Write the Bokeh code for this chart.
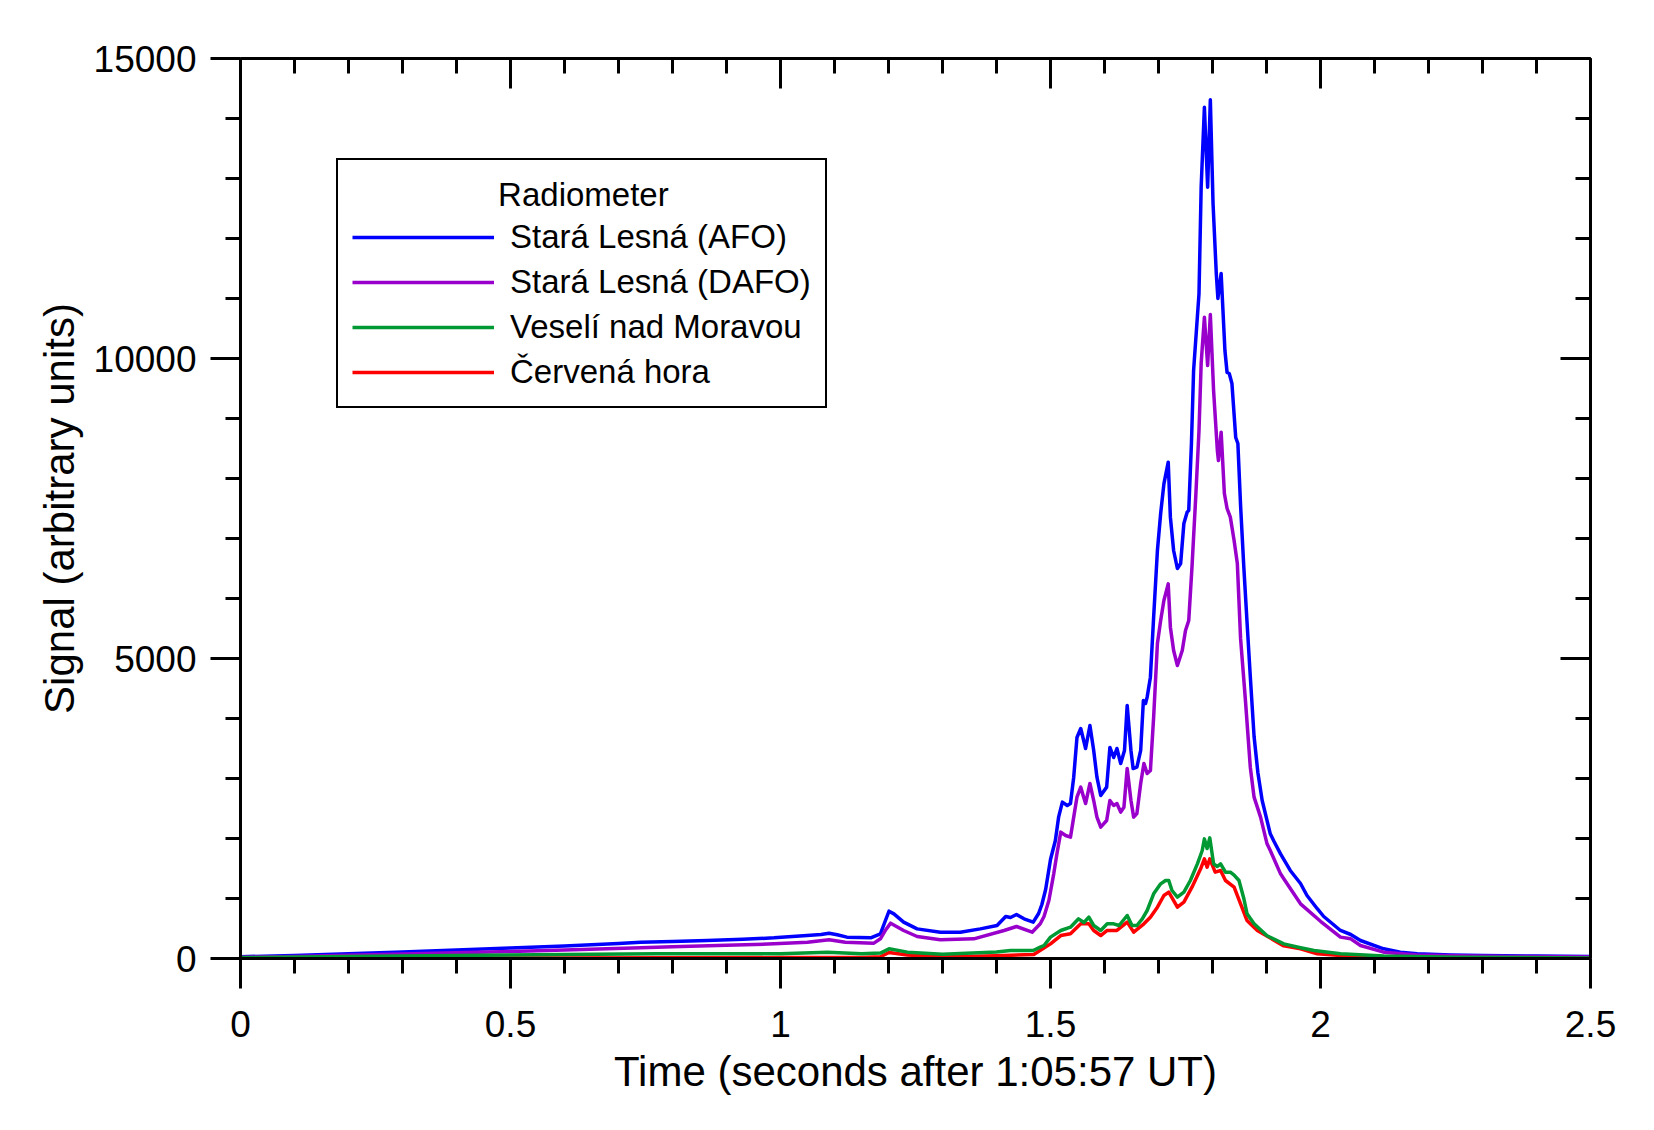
from bokeh.plotting import figure
from bokeh.models import (Range1d, LinearAxis, FixedTicker, Legend, LegendItem,
                          CustomJSTickFormatter, Label)
from bokeh.embed import file_html
from bokeh.resources import INLINE

FONT = "Liberation Sans"

# ---- signal traces (time in s after 1:05:57 UT, arbitrary units) ----
t_afo = [0.00, 0.10, 0.20, 0.30, 0.40, 0.50, 0.60, 0.70, 0.741, 0.80, 0.864, 0.93, 0.988,
         1.049, 1.075, 1.090, 1.105, 1.123, 1.167, 1.185, 1.195, 1.201, 1.210, 1.228, 1.253,
         1.296, 1.333, 1.370, 1.401, 1.417, 1.426, 1.437, 1.451, 1.468, 1.478, 1.484, 1.491,
         1.500, 1.509, 1.515, 1.522, 1.531, 1.537, 1.543, 1.549, 1.556, 1.561, 1.565, 1.573,
         1.580, 1.586, 1.593, 1.604, 1.610, 1.617, 1.623, 1.630, 1.637, 1.642, 1.649, 1.653,
         1.660, 1.667, 1.672, 1.676, 1.679, 1.685, 1.691, 1.698, 1.704, 1.710, 1.718, 1.722,
         1.728, 1.735, 1.741, 1.747, 1.753, 1.756, 1.761, 1.765, 1.775, 1.779, 1.785, 1.791,
         1.796, 1.801, 1.807, 1.810, 1.816, 1.823, 1.827, 1.831, 1.836, 1.843, 1.847, 1.852,
         1.858, 1.864, 1.870, 1.877, 1.884, 1.892, 1.907, 1.914, 1.926, 1.944, 1.963, 1.975,
         1.994, 2.006, 2.037, 2.056, 2.074, 2.117, 2.148, 2.179, 2.241, 2.30, 2.40, 2.50]
s_afo = [30, 50, 80, 110, 140, 175, 210, 250, 272, 285, 300, 320, 344,
         383, 400, 422, 395, 356, 344, 411, 650, 789, 744, 606, 494,
         439, 439, 494, 550, 700, 683, 733, 661, 606, 750, 900, 1150,
         1650, 1967, 2356, 2606, 2550, 2583, 3022, 3683, 3833, 3650, 3500, 3883,
         3467, 3022, 2717, 2856, 3517, 3350, 3500, 3250, 3467, 4217, 3467, 3167,
         3189, 3467, 4300, 4250, 4356, 4689, 5689, 6800, 7417, 7911, 8272, 7356,
         6800, 6500, 6583, 7250, 7439, 7467, 8583, 9800, 11083, 12855, 14188, 12855,
         14311, 12583, 11417, 11000, 11417, 10133, 9767, 9750, 9583, 8683, 8583, 7550,
         6522, 5600, 4700, 3700, 3100, 2633, 2078, 1950, 1744, 1467, 1250, 1050,
         830, 700, 467, 400, 300, 161, 106, 78, 60, 50, 40, 35]

t_dafo = [0.00, 0.10, 0.20, 0.30, 0.40, 0.50, 0.60, 0.741, 0.80, 0.90, 0.988, 1.05, 1.090,
          1.12, 1.173, 1.185, 1.195, 1.204, 1.228, 1.253, 1.296, 1.358, 1.414, 1.437, 1.466,
          1.481, 1.488, 1.497, 1.506, 1.512, 1.519, 1.528, 1.537, 1.543, 1.549, 1.556, 1.561,
          1.565, 1.573, 1.580, 1.586, 1.593, 1.604, 1.610, 1.617, 1.623, 1.630, 1.636, 1.642,
          1.649, 1.654, 1.660, 1.667, 1.673, 1.679, 1.685, 1.691, 1.698, 1.704, 1.710, 1.718,
          1.722, 1.728, 1.735, 1.744, 1.750, 1.756, 1.762, 1.769, 1.775, 1.779, 1.785, 1.791,
          1.796, 1.802, 1.809, 1.811, 1.816, 1.822, 1.827, 1.833, 1.840, 1.846, 1.852, 1.861,
          1.870, 1.877, 1.889, 1.901, 1.907, 1.926, 1.932, 1.963, 2.000, 2.037, 2.056, 2.074,
          2.117, 2.179, 2.25, 2.35, 2.50]
s_dafo = [20, 35, 55, 75, 95, 115, 140, 178, 195, 220, 244, 270, 311,
          270, 256, 328, 480, 589, 467, 367, 311, 328, 467, 533, 439,
          578, 700, 967, 1411, 1750, 2106, 2050, 2022, 2356, 2689, 2856, 2700,
          2583, 2917, 2633, 2356, 2189, 2300, 2633, 2550, 2583, 2439, 2522, 3167,
          2633, 2356, 2417, 2917, 3250, 3083, 3133, 4022, 5250, 5633, 5967, 6244,
          5522, 5133, 4883, 5133, 5467, 5633, 6522, 7700, 8800, 9917, 10689, 9883,
          10733, 9467, 8467, 8300, 8772, 7750, 7500, 7356, 6967, 6583, 5330, 4300,
          3189, 2689, 2356, 1911, 1800, 1411, 1330, 911, 620, 356, 328, 217,
          106, 60, 45, 35, 25]

t_vmo = [0.00, 0.20, 0.40, 0.60, 0.772, 1.00, 1.087, 1.15, 1.185, 1.201, 1.235, 1.30, 1.40,
         1.426, 1.468, 1.481, 1.488, 1.500, 1.519, 1.537, 1.552, 1.562, 1.571, 1.580, 1.593,
         1.605, 1.617, 1.627, 1.642, 1.651, 1.660, 1.670, 1.679, 1.691, 1.704, 1.713, 1.719,
         1.725, 1.735, 1.747, 1.759, 1.772, 1.781, 1.785, 1.790, 1.795, 1.802, 1.809, 1.815,
         1.824, 1.833, 1.840, 1.849, 1.858, 1.864, 1.877, 1.901, 1.932, 1.963, 1.988, 2.037,
         2.117, 2.25, 2.50]
s_vmo = [15, 35, 50, 65, 78, 80, 106, 80, 90, 161, 106, 70, 110,
         133, 133, 189, 217, 356, 467, 522, 661, 600, 689, 550, 467,
         578, 578, 550, 717, 550, 550, 661, 800, 1078, 1244, 1300, 1300,
         1133, 1022, 1106, 1300, 1578, 1800, 1994, 1833, 2010, 1578, 1533, 1578,
         1439, 1439, 1390, 1300, 1000, 744, 578, 380, 244, 180, 133, 78,
         40, 20, 10]

t_ch = [0.00, 0.30, 0.60, 1.00, 1.15, 1.185, 1.201, 1.235, 1.30, 1.40, 1.469, 1.500, 1.519,
        1.537, 1.556, 1.571, 1.580, 1.593, 1.605, 1.623, 1.642, 1.654, 1.673, 1.685, 1.698,
        1.710, 1.719, 1.735, 1.747, 1.762, 1.778, 1.785, 1.790, 1.795, 1.805, 1.815, 1.824,
        1.840, 1.852, 1.864, 1.870, 1.883, 1.932, 1.963, 1.994, 2.05, 2.20, 2.50]
s_ch = [0, 5, 10, 15, 15, 30, 100, 60, 25, 45, 67, 244, 383,
        411, 578, 578, 467, 383, 467, 467, 606, 439, 578, 689, 856,
        1050, 1106, 856, 939, 1189, 1494, 1661, 1522, 1661, 1439, 1467, 1300,
        1189, 911, 633, 578, 467, 210, 161, 78, 40, 10, 0]

names = ["Stará Lesná (AFO)", "Stará Lesná (DAFO)", "Veselí nad Moravou", "Červená hora"]
colors = ["#0000ff", "#9900cc", "#009933", "#ff0000"]
legend_title = "Radiometer"

x_ticks = [0, 0.5, 1, 1.5, 2, 2.5]
x_tick_labels = ["0", "0.5", "1", "1.5", "2", "2.5"]
x_minor = [i / 10 for i in range(26)]
y_ticks = [0, 5000, 10000, 15000]
y_tick_labels = ["0", "5000", "10000", "15000"]
y_minor = list(range(0, 15001, 1000))

p = figure(width=1654, height=1130, x_range=Range1d(0, 2.5), y_range=Range1d(0, 15000),
           output_backend="svg", toolbar_location=None,
           min_border_left=240, min_border_right=64, min_border_top=58, min_border_bottom=172,
           x_axis_label="Time (seconds after 1:05:57 UT)",
           y_axis_label="Signal (arbitrary units)")
p.xgrid.visible = False
p.ygrid.visible = False
p.outline_line_color = None
p.background_fill_color = "white"
p.border_fill_color = "white"


def style_axis(ax, ticks, minor, inward):
    ax.ticker = FixedTicker(ticks=ticks, minor_ticks=minor)
    ax.axis_line_width = 3
    ax.axis_line_color = "black"
    ax.major_tick_line_width = 3
    ax.minor_tick_line_width = 3
    ax.major_tick_line_color = "black"
    ax.minor_tick_line_color = "black"
    if inward:
        ax.major_tick_in, ax.major_tick_out = 30, 0
        ax.minor_tick_in, ax.minor_tick_out = 15, 0
        ax.major_label_text_font_size = "1px"
        ax.major_label_text_color = None
        ax.formatter = CustomJSTickFormatter(code="return ''")
    else:
        ax.major_tick_in, ax.major_tick_out = 0, 30
        ax.minor_tick_in, ax.minor_tick_out = 0, 15
        ax.major_label_text_font = FONT
        ax.major_label_text_font_size = "37px"
        ax.major_label_text_color = "black"
        ax.axis_label_text_font = FONT
        ax.axis_label_text_font_size = "42px"
        ax.axis_label_text_font_style = "normal"
        ax.axis_label_text_color = "black"


xb = p.xaxis[0]
style_axis(xb, x_ticks, x_minor, False)
xb.major_label_overrides = dict(zip(x_ticks, x_tick_labels))
xb.major_label_standoff = 22
xb.axis_label_standoff = 8

yl = p.yaxis[0]
style_axis(yl, y_ticks, y_minor, False)
yl.major_label_overrides = dict(zip(y_ticks, y_tick_labels))
yl.major_label_orientation = "horizontal"
yl.major_label_standoff = 14
yl.axis_label_standoff = 8

xt = LinearAxis()
style_axis(xt, x_ticks, x_minor, True)
p.add_layout(xt, "above")
yr = LinearAxis()
style_axis(yr, y_ticks, y_minor, True)
p.add_layout(yr, "right")

series = [(t_afo, s_afo), (t_dafo, s_dafo), (t_vmo, s_vmo), (t_ch, s_ch)]
renderers = [None] * 4
for idx in [0, 1, 3, 2]:
    t, s = series[idx]
    renderers[idx] = p.line(t, s, line_color=colors[idx], line_width=3.5,
                            line_join="round")

# legend box; the blank title row keeps room for the centred heading below
legend = Legend(
    items=[LegendItem(label=names[i], renderers=[renderers[i]]) for i in range(4)],
    location=(96, 550), margin=0, padding=14, spacing=5,
    glyph_width=142, glyph_height=40, label_height=40, label_standoff=16,
    label_text_font=FONT, label_text_font_size="33px", label_text_color="black",
    title=" ", title_text_font=FONT, title_text_font_size="33px",
    title_text_font_style="normal", title_text_color="black", title_standoff=5,
    border_line_color="black", border_line_width=2, border_line_alpha=1.0,
    background_fill_color=None,
)
p.add_layout(legend)

# centred heading of the legend, anchored in data space above the entries
p.add_layout(Label(x=0.635, y=12740, text=legend_title,
                   text_align="center", text_baseline="alphabetic", text_font=FONT,
                   text_font_size="33px", text_color="black", level="overlay"))

open("out.html", "w").write(file_html(p, INLINE))
